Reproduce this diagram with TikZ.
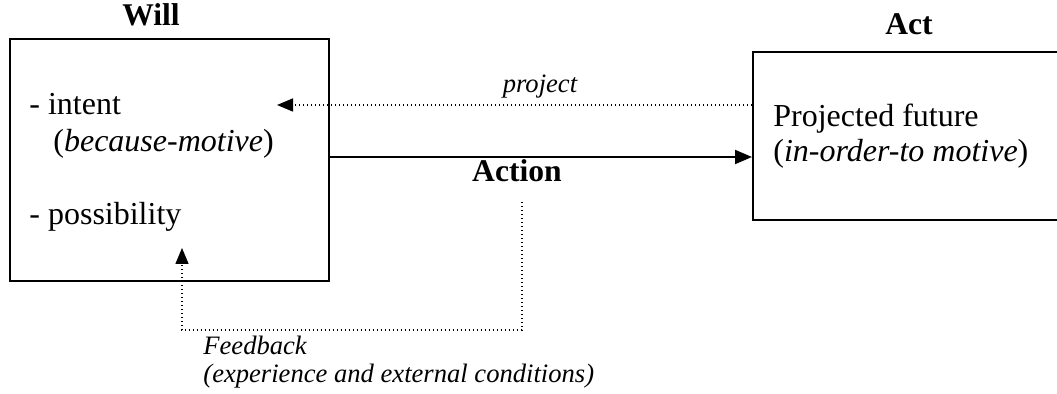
\documentclass[tikz,border=0pt]{standalone}
\usepackage{fontspec}
\setmainfont{Liberation Serif}
\usetikzlibrary{arrows.meta,fit}
\begin{document}
\begin{tikzpicture}[x=0.5pt,y=-0.5pt,
  box/.style={draw, line width=1pt, inner sep=0pt},
  title/.style={font=\fontsize{15.8}{18}\selectfont\bfseries, inner sep=0pt, anchor=base},
  body/.style={font=\fontsize{16}{19}\selectfont, inner sep=0pt, anchor=base west},
  note/.style={font=\fontsize{13.3}{16}\selectfont\itshape, inner sep=0pt},
  solidarrow/.style={line width=1pt, -{Triangle[length=8.5pt,width=7pt]}},
  dotarrow/.style={line width=0.75pt, dash pattern=on 0.7pt off 1.3pt,
                   -{Triangle[length=8pt,width=6.5pt]}},
]
\useasboundingbox (0,0) rectangle (1057,394);

% the two boxes (the Act box runs past the right edge)
\node[box, fit={(10,39) (329,281)}] (will) {};
\node[box, fit={(753,52) (1070,220)}] (act) {};

% titles
\node[title] (willtitle) at (151,26) {Will};
\node[title] (acttitle) at (909,35) {Act};

% contents of the Will box
\node[body] (intent) at (29,115) {- intent};
\node[body] (because) at (53,152) {(\textit{because-motive})};
\node[body] (possib) at (29,225) {- possibility};

% contents of the Act box
\node[body] (future) at (773,127) {Projected future};
\node[body] (inorder) at (773,162) {(\textit{in-order-to motive})};

% projection back from the act to the will
\coordinate (projtip) at (277,105);
\draw[dotarrow] (act.west |- projtip) -- (projtip);
\node[note, anchor=base] (projlabel) at (540,93) {project};

% the action itself
\coordinate (actrow) at (0,157);
\draw[solidarrow] (will.east |- actrow) -- (act.west |- actrow);
\node[title] (actionlabel) at (517,182) {Action};

% feedback loop
\coordinate (fbstart) at (522,202);
\coordinate (fbbottom) at (0,330);
\coordinate (fbtip) at (182,248);
\draw[dotarrow] (fbstart) -- (fbstart |- fbbottom) -| (fbtip);
\node[note, anchor=base west] (fbtitle) at (203,355) {Feedback};
\node[note, anchor=base west] (fbnote) at (203,383) {(experience and external conditions)};
\end{tikzpicture}
\end{document}
